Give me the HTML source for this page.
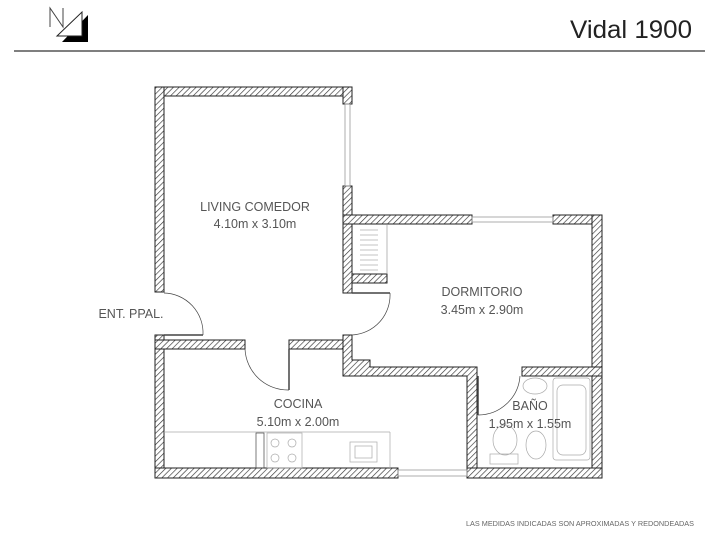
<!DOCTYPE html>
<html><head><meta charset="utf-8"><style>
html,body{margin:0;padding:0;background:#fff;}
body{width:720px;height:532px;overflow:hidden;font-family:"Liberation Sans",sans-serif;}
</style></head><body>
<svg width="720" height="532" viewBox="0 0 720 532" xmlns="http://www.w3.org/2000/svg">
<defs>
<pattern id="h" patternUnits="userSpaceOnUse" width="4" height="4" patternTransform="rotate(45)">
<rect width="4" height="4" fill="#fff"/><line x1="0" y1="0" x2="0" y2="4" stroke="#333" stroke-width="1.3"/>
</pattern>
</defs>
<!-- header -->
<polygon points="62,42 88,15 88,42" fill="#000"/>
<polygon points="57,36 82,12 82,36" fill="#fff" stroke="#222" stroke-width="1"/>
<path d="M50,27 L50,8 L63,27 L63,8" fill="none" stroke="#444" stroke-width="1"/>
<text x="692" y="38" text-anchor="end" font-size="25" fill="#222" textLength="122" lengthAdjust="spacingAndGlyphs">Vidal 1900</text>
<line x1="14" y1="51" x2="705" y2="51" stroke="#333" stroke-width="1.2"/>
<text x="694" y="526" text-anchor="end" font-size="7.2" fill="#666" textLength="228" lengthAdjust="spacingAndGlyphs">LAS MEDIDAS INDICADAS SON APROXIMADAS Y REDONDEADAS</text>

<g fill="url(#h)" stroke="#222" stroke-width="1">
<!-- living -->
<rect x="155" y="87" width="197" height="9"/>
<rect x="155" y="87" width="9" height="205"/>
<rect x="343" y="87" width="9" height="17"/>
<rect x="343" y="186" width="9" height="107"/>
<!-- kitchen -->
<rect x="155" y="335" width="9" height="143"/>
<rect x="155" y="340" width="90" height="9"/>
<rect x="289" y="340" width="63" height="9"/>
<path d="M343,335 H352 V360 H370 V367 H477 V478 H467 V376 H343 Z"/>
<rect x="155" y="468" width="243" height="10"/>
<!-- dorm -->
<rect x="343" y="215" width="129" height="9"/>
<rect x="553" y="215" width="49" height="9"/>
<rect x="592" y="215" width="10" height="263"/>
<rect x="352" y="274" width="35" height="9"/>
<!-- bath -->
<rect x="522" y="367" width="80" height="9"/>
<rect x="467" y="468" width="135" height="10"/>
</g>
<!-- windows -->
<g stroke="#999" stroke-width="0.8" fill="none">
<rect x="345" y="104" width="5" height="82"/>
<rect x="472" y="217" width="81" height="5"/>
<rect x="398" y="470" width="69" height="6"/>
</g>
<!-- closet hatch -->
<g stroke="#888" stroke-width="0.6">
<line x1="360" y1="230" x2="378" y2="230"/><line x1="360" y1="235" x2="378" y2="235"/><line x1="360" y1="240" x2="378" y2="240"/><line x1="360" y1="245" x2="378" y2="245"/><line x1="360" y1="250" x2="378" y2="250"/><line x1="360" y1="255" x2="378" y2="255"/><line x1="360" y1="260" x2="378" y2="260"/><line x1="360" y1="265" x2="378" y2="265"/><line x1="360" y1="270" x2="378" y2="270"/>
<line x1="387" y1="224" x2="387" y2="274"/>
</g>
<!-- doors -->
<g fill="none" stroke="#444">
<line x1="164" y1="335" x2="203" y2="335" stroke-width="1.5"/>
<path d="M203,335 A40,40 0 0 0 164,293" stroke-width="0.7"/>
<line x1="289" y1="349" x2="289" y2="390" stroke-width="1.5"/>
<path d="M245,349 A43,43 0 0 0 289,390" stroke-width="0.7"/>
<line x1="352" y1="293" x2="390" y2="293" stroke-width="1.5"/>
<path d="M390,293 A40,40 0 0 1 352,335" stroke-width="0.7"/>
<line x1="478" y1="376" x2="478" y2="415" stroke-width="1.5"/>
<path d="M478,415 A42,42 0 0 0 520,376" stroke-width="0.7"/>
</g>
<!-- kitchen furniture -->
<g fill="none" stroke="#aaa" stroke-width="0.7">
<line x1="164" y1="432" x2="390" y2="432"/>
<line x1="390" y1="432" x2="390" y2="468"/>
<rect x="256" y="433" width="8" height="35" stroke="#444"/>
<rect x="267" y="433" width="35" height="35"/>
<circle cx="275" cy="443" r="4"/><circle cx="292" cy="443" r="4"/><circle cx="275" cy="458" r="4"/><circle cx="292" cy="458" r="4"/>
<rect x="350" y="442" width="27" height="20"/>
<rect x="355" y="446" width="17" height="12"/>
<!-- bath -->
<rect x="553" y="378" width="37" height="82" rx="3"/>
<rect x="557" y="385" width="29" height="70" rx="6"/>
<ellipse cx="535" cy="386" rx="12" ry="8"/>
<ellipse cx="536" cy="445" rx="10" ry="14"/>
<ellipse cx="505" cy="440" rx="12" ry="15"/>
<rect x="490" y="454" width="28" height="10"/>
</g>
<!-- labels -->
<g font-size="12.5" fill="#555" text-anchor="middle">
<text x="255" y="211">LIVING COMEDOR</text>
<text x="255" y="228">4.10m x 3.10m</text>
<text x="482" y="296">DORMITORIO</text>
<text x="482" y="314">3.45m x 2.90m</text>
<text x="298" y="408">COCINA</text>
<text x="298" y="426">5.10m x 2.00m</text>
<text x="530" y="410">BAÑO</text>
<text x="530" y="428">1.95m x 1.55m</text>
<text x="131" y="318">ENT. PPAL.</text>
</g>
</svg>
</body></html>
